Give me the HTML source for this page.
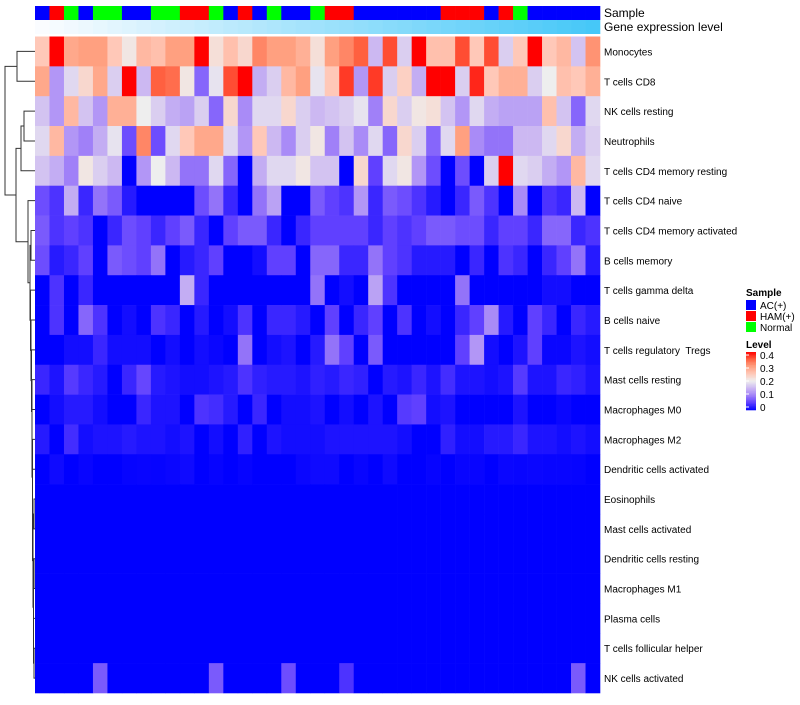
<!DOCTYPE html>
<html><head><meta charset="utf-8">
<style>
html,body{margin:0;padding:0;background:#fff;}
body{width:800px;height:700px;overflow:hidden;font-family:"Liberation Sans",Arial,sans-serif;}
svg text{font-family:"Liberation Sans",Arial,sans-serif;white-space:pre;}
</style></head>
<body>
<svg id="chart" width="800" height="700" xmlns="http://www.w3.org/2000/svg">
<g id="dendro"></g>
<g id="annot"></g>
<g id="cells"></g>
<g id="rowlabels"></g>
<g id="legend"></g>
</svg>
<script>
const cellTypes = ["Monocytes","T cells CD8","NK cells resting","Neutrophils","T cells CD4 memory resting","T cells CD4 naive","T cells CD4 memory activated","B cells memory","T cells gamma delta","B cells naive","T cells regulatory  Tregs","Mast cells resting","Macrophages M0","Macrophages M2","Dendritic cells activated","Eosinophils","Mast cells activated","Dendritic cells resting","Macrophages M1","Plasma cells","T cells follicular helper","NK cells activated"];
const sampleGroups = ["AC","HAM","Normal","AC","Normal","Normal","AC","AC","Normal","Normal","HAM","HAM","Normal","AC","HAM","AC","Normal","AC","AC","Normal","HAM","HAM","AC","AC","AC","AC","AC","AC","HAM","HAM","HAM","AC","HAM","Normal","AC","AC","AC","AC","AC"];
const groupNames = ["AC(+)","HAM(+)","Normal"];
const levelTicks = [0.4,0.3,0.2,0.1,0];
const Z = new Array(39).fill(0);
const expression = [
[.25,.4,.29,.3,.3,.25,.21,.27,.26,.3,.3,.4,.22,.26,.23,.32,.3,.3,.28,.22,.3,.32,.35,.15,.36,.17,.4,.26,.26,.36,.25,.36,.17,.25,.4,.25,.27,.16,.31],
[.29,.12,.18,.23,.29,.17,.4,.15,.35,.34,.21,.08,.19,.36,.4,.14,.17,.27,.3,.19,.25,.37,.12,.37,.17,.24,.14,.4,.4,.17,.38,.25,.28,.28,.17,.2,.26,.25,.28],
[.16,.12,.27,.16,.12,.28,.28,.2,.17,.14,.13,.17,.08,.23,.11,.18,.18,.23,.17,.15,.16,.17,.19,.1,.23,.17,.21,.22,.16,.12,.18,.14,.13,.13,.13,.26,.16,.08,.18],
[.18,.27,.12,.1,.14,.19,.06,.32,.06,.18,.25,.29,.29,.18,.12,.25,.15,.11,.17,.21,.1,.16,.11,.18,.08,.23,.17,.08,.18,.3,.11,.09,.09,.15,.15,.18,.23,.14,.17],
[.16,.14,.1,.21,.17,.15,0,.12,.2,.15,.09,.09,.18,.08,0,.14,.18,.18,.21,.16,.16,0,.23,.05,.18,.21,.12,.06,0,.06,0,.17,.4,.18,.17,.14,.12,.27,.18],
[.06,.04,.14,.03,.09,.07,.02,0,0,0,0,.06,.09,.03,0,.09,.13,0,0,.07,.05,.04,.12,.03,.07,.06,.04,.02,0,.03,.07,.04,0,.11,0,.04,.03,.15,0],
[.07,.04,.05,.04,0,.03,.06,.05,.03,.05,.07,.03,0,.05,.07,.07,.03,0,.03,.05,.05,.05,.05,.03,.05,.04,.05,.07,.07,.06,.06,.03,.05,.05,.03,.08,.08,.03,.04],
[.06,.02,.03,.05,0,.07,.06,.05,.09,0,.02,.03,.05,0,0,.01,.05,.05,0,.08,.08,.03,.03,.09,.05,.04,.02,.02,.02,0,.03,0,.04,.03,0,.03,.05,.09,.02],
[0,.04,0,.03,0,0,0,0,0,0,.14,.03,0,0,0,0,0,0,0,.09,0,.01,0,.13,.04,0,0,0,0,.09,0,0,0,0,0,.01,.01,0,0],
[0,.04,0,.08,.04,0,.01,0,.04,.03,0,.02,0,.01,.04,0,.03,.03,.02,0,.05,0,.03,.05,0,.04,0,.01,0,.03,.05,.11,.02,0,.05,.03,0,.03,.02],
[0,0,.01,.01,.03,.01,.01,.01,0,.01,0,.01,.005,0,.09,0,.01,.015,0,.02,.09,.05,0,.07,0,0,0,0,0,.05,.12,.01,0,.015,.05,.005,.005,.015,.01],
[.03,.015,.045,.03,.02,0,.03,.055,.02,.015,.01,.01,.015,.02,.04,.025,.02,.02,.015,.025,.02,.03,.025,0,.02,.015,.03,.015,.035,.015,.015,.01,.015,.045,.015,.015,.03,.025,.015],
[0,.01,.02,.02,.01,0,0,.03,.015,.015,0,.04,.035,.02,0,.03,0,.01,.01,.015,0,.01,0,.015,0,.045,.05,.01,.015,0,0,0,0,.015,0,0,.005,0,0],
[.02,0,.035,.01,.015,.015,.02,.015,.015,.01,.015,0,.01,0,.025,0,.015,.01,.01,.01,.015,.015,.015,.015,.015,.01,0,0,.025,.01,.01,.02,.02,.03,.015,.015,.01,.015,.01],
[0,.008,0,.004,0,0,.003,.004,.003,.005,.008,0,.003,0,.003,0,0,0,.005,.008,.008,0,.004,0,.008,0,0,.003,0,.004,.004,0,.005,.004,.005,.004,.004,.003,0],
Z,Z,Z,Z,Z,Z,
[0,0,0,0,.07,0,0,0,0,0,0,0,.07,0,0,0,0,.06,0,0,0,.04,0,0,0,0,0,0,0,0,0,0,0,0,0,0,0,.07,0]
];

const NS="http://www.w3.org/2000/svg";
function mk(tag,attrs,parent){const e=document.createElementNS(NS,tag);for(const k in attrs)e.setAttribute(k,attrs[k]);parent.appendChild(e);return e;}
const stops=[[0,[0,0,255]],[.05,[96,64,255]],[.1,[160,128,248]],[.15,[204,184,242]],[.2,[238,238,238]],[.25,[255,200,184]],[.3,[255,160,128]],[.35,[255,96,64]],[.4,[255,0,0]]];
function color(v){v=Math.max(0,Math.min(.4,v));for(let i=1;i<stops.length;i++){if(v<=stops[i][0]+1e-9){const a=stops[i-1],b=stops[i];const t=(v-a[0])/(b[0]-a[0]);const c=a[1].map((x,j)=>Math.round(x+(b[1][j]-x)*t));return `rgb(${c[0]},${c[1]},${c[2]})`;}}return "red";}
const groupColor={AC:"#0000ff",HAM:"#ff0000",Normal:"#00ff00"};
const X0=35,X1=600,Y0=36.5,Y1=693;
const nCol=sampleGroups.length,nRow=cellTypes.length;
const cw=(X1-X0)/nCol,rh=(Y1-Y0)/nRow;
const xOf=j=>X0+j*cw, yOf=i=>Y0+i*rh;

const annot=document.getElementById('annot');
sampleGroups.forEach((g,j)=>{
 const r=mk('rect',{x:xOf(j),y:6,width:cw+0.3,height:14,fill:groupColor[g]},annot);
 
 
 const f=j/(nCol-1);
 const gc=`rgb(${Math.round(250-(250-70)*f)},${Math.round(252-(252-200)*f)},${Math.round(255-(255-248)*f)})`;
 const r2=mk('rect',{x:xOf(j),y:20,width:cw+0.3,height:14,fill:gc},annot);
 
 
});
let t=mk('text',{x:604,y:17,'font-size':12,fill:'#000'},annot);t.textContent="Sample";


t=mk('text',{x:604,y:31,'font-size':12,fill:'#000'},annot);t.textContent="Gene expression level";



const cells=document.getElementById('cells');
expression.forEach((row,i)=>row.forEach((v,j)=>{
 const r=mk('rect',{x:xOf(j),y:yOf(i),width:cw+0.3,height:rh+0.3,fill:color(v)},cells);
 
 
}));

const rl=document.getElementById('rowlabels');
cellTypes.forEach((n,i)=>{
 const e=mk('text',{x:604,y:yOf(i)+rh/2+4,'font-size':10,fill:'#000'},rl);
 e.textContent=n;
 
 
});

// dendrogram
const dg=document.getElementById('dendro');
const tree={l:{l:0,r:1,h:17},r:{l:{l:{l:2,r:3,h:24},r:4,h:21},r:{l:5,r:{l:{l:6,r:7,h:31},r:{l:8,r:{l:9,r:{l:10,r:{l:11,r:{l:12,r:{l:13,r:{l:14,r:{l:{l:15,r:16,h:34},r:{l:{l:17,r:18,h:34},r:{l:19,r:{l:20,r:21,h:34},h:33.5},h:33.5},h:33},h:32.5},h:32.5},h:32},h:32},h:31.5},h:31},h:30.5},h:30},h:28},h:16},h:5};
let d="";
function walk(n){if(typeof n==="number")return{y:yOf(n)+rh/2,x:X0};
 const a=walk(n.l),b=walk(n.r);
 d+=`M${a.x},${a.y}H${n.h}V${b.y}H${b.x}`;
 return{y:(a.y+b.y)/2,x:n.h};}
walk(tree);
const p=mk('path',{d:d,fill:'none',stroke:'#333','stroke-width':1},dg);



// legend
const lg=document.getElementById('legend');
t=mk('text',{x:746,y:296,'font-size':10,'font-weight':'bold'},lg);t.textContent="Sample";


["AC","HAM","Normal"].forEach((g,k)=>{
 const r=mk('rect',{x:746,y:300+k*11,width:10,height:10,fill:groupColor[g]},lg);
 
 
 const tx=mk('text',{x:760,y:309+k*11,'font-size':10},lg);tx.textContent=groupNames[k];
 
 
});
t=mk('text',{x:746,y:348,'font-size':10,'font-weight':'bold'},lg);t.textContent="Level";


const barTop=352,barBot=410,N=40;
for(let k=0;k<N;k++){
 const v=0.4*(1-(k+0.5)/N);
 const r=mk('rect',{x:746,y:barTop+k*(barBot-barTop)/N,width:10,height:(barBot-barTop)/N+0.3,fill:color(v)},lg);
 
 
}
levelTicks.forEach(v=>{
 const y=barBot-3-(v/0.4)*(barBot-barTop-6);
 const ln=mk('line',{x1:746,x2:749,y1:y,y2:y,stroke:'#fff','stroke-width':1},lg);
 
 
 const tx=mk('text',{x:760,y:y+4,'font-size':10},lg);tx.textContent=String(v);
 
 
});
</script>
</body></html>
